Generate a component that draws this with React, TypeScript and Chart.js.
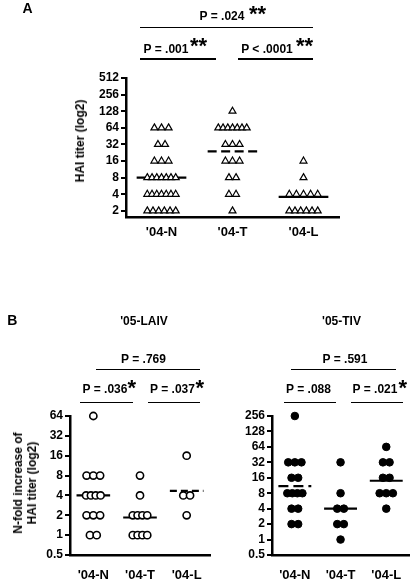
import React, { useEffect, useRef } from "react";
import { Chart, registerables } from "chart.js";

Chart.register(...registerables);

const FONT = "'Liberation Sans', Arial, Helvetica, sans-serif";

const GROUPS = ["'04-N", "'04-T", "'04-L"];

// Panel A: HAI titer (triangles)
const A_N = [64, 64, 64, 32, 32, 16, 16, 16, 8, 8, 8, 8, 8, 8, 8, 4, 4, 4, 4, 4, 4, 4, 2, 2, 2, 2, 2, 2];
const A_T = [128, 64, 64, 64, 64, 64, 64, 64, 32, 32, 32, 16, 16, 16, 8, 8, 4, 4, 2];
const A_L = [16, 8, 4, 4, 4, 4, 4, 2, 2, 2, 2, 2, 2];
const A_CENTER = [8, 24, 3.6];
const A_TICKS = [2, 4, 8, 16, 32, 64, 128, 256, 512];

// Panel B left: '05-LAIV (open circles)
const LAIV_N = [64, 8, 8, 8, 4, 4, 4, 4, 2, 2, 2, 1, 1];
const LAIV_T = [8, 4, 2, 2, 2, 2, 1, 1, 1, 1];
const LAIV_L = [16, 4, 4, 2];
const LAIV_CENTER = [4, 1.85, 4.7];
const LAIV_TICKS = [0.5, 1, 2, 4, 8, 16, 32, 64];

// Panel B right: '05-TIV (filled circles)
const TIV_N = [256, 32, 32, 32, 16, 16, 8, 8, 8, 8, 4, 4, 2, 2];
const TIV_T = [32, 8, 4, 4, 2, 2, 1];
const TIV_L = [64, 32, 32, 16, 16, 8, 8, 8, 4];
const TIV_CENTER = [11, 4, 14];
const TIV_TICKS = [0.5, 1, 2, 4, 8, 16, 32, 64, 128, 256];

// spread tied values horizontally around the group's category position
function spread(values: number[], center: number, maxStep: number, maxSpan: number) {
  const counts = new Map<number, number>();
  values.forEach((v) => counts.set(v, (counts.get(v) || 0) + 1));
  const seen = new Map<number, number>();
  return values.map((v) => {
    const n = counts.get(v) || 1;
    const i = seen.get(v) || 0;
    seen.set(v, i + 1);
    const step = n > 1 ? Math.min(maxStep, maxSpan / (n - 1)) : 0;
    return { x: center + (i - (n - 1) / 2) * step, y: v };
  });
}

type PanelSpec = {
  groups: number[][];
  centers: number[];
  ticks: number[];
  yMin: number;
  yMax: number;
  area: { left: number; right: number; top: number; bottom: number };
  yAxisWidth: number;
  xAxisHeight: number;
  xLabelPad: number;
  pointStyle: string;
  radius: number;
  pointBorder: number;
  fill: string;
  maxStep: number;
  maxSpan: number;
  halfWidth: number;
  dashes: (number[] | null)[];
};

function buildConfig(p: PanelSpec): any {
  const datasets: any[] = [];
  p.groups.forEach((vals, gi) => {
    datasets.push({
      type: "scatter",
      data: spread(vals, gi, p.maxStep, p.maxSpan),
      pointStyle: p.pointStyle,
      pointRadius: p.radius,
      pointBorderWidth: p.pointBorder,
      pointBorderColor: "#000",
      pointBackgroundColor: p.fill,
      showLine: false,
      clip: false,
      order: 0,
    });
  });
  p.centers.forEach((m, gi) => {
    datasets.push({
      type: "scatter",
      data: [
        { x: gi - p.halfWidth, y: m },
        { x: gi + p.halfWidth, y: m },
      ],
      showLine: true,
      borderColor: "#000",
      borderWidth: 2.2,
      borderDash: p.dashes[gi] || [],
      pointRadius: 0,
      clip: false,
      order: 1,
    });
  });
  const W = 415;
  const H = 582;
  return {
    type: "scatter",
    data: { datasets },
    options: {
      animation: false,
      responsive: false,
      devicePixelRatio: 1,
      events: [],
      layout: {
        padding: {
          left: p.area.left - p.yAxisWidth,
          right: W - p.area.right,
          top: p.area.top,
          bottom: H - p.area.bottom - p.xAxisHeight,
        },
      },
      plugins: { legend: { display: false }, tooltip: { enabled: false } },
      scales: {
        x: {
          type: "linear",
          min: -0.5,
          max: 2.5,
          afterBuildTicks: (s: any) => {
            s.ticks = [0, 1, 2].map((v) => ({ value: v }));
          },
          afterFit: (s: any) => {
            s.height = p.xAxisHeight;
          },
          grid: { display: false, drawTicks: false },
          border: { display: true, color: "#000", width: 2.5 },
          ticks: {
            callback: (v: any) => GROUPS[v] ?? "",
            color: "#000",
            font: { family: FONT, size: 13, weight: "bold" },
            padding: p.xLabelPad,
            maxRotation: 0,
            autoSkip: false,
          },
        },
        y: {
          type: "logarithmic",
          min: p.yMin,
          max: p.yMax,
          afterBuildTicks: (s: any) => {
            s.ticks = p.ticks.map((v) => ({ value: v }));
          },
          afterFit: (s: any) => {
            s.width = p.yAxisWidth;
          },
          grid: {
            display: true,
            drawOnChartArea: false,
            drawTicks: true,
            tickLength: 5,
            color: "#000",
            lineWidth: 2,
          },
          border: { display: true, color: "#000", width: 2.5 },
          ticks: {
            callback: (v: any) => String(v),
            color: "#000",
            font: { family: FONT, size: 12, weight: "bold" },
            padding: 2,
            autoSkip: false,
          },
        },
      },
    },
  };
}

const PANEL_A: PanelSpec = {
  groups: [A_N, A_T, A_L],
  centers: A_CENTER,
  ticks: A_TICKS,
  yMin: 1.55,
  yMax: 512,
  area: { left: 126, right: 339, top: 78, bottom: 217 },
  yAxisWidth: 60,
  xAxisHeight: 30,
  xLabelPad: 8,
  pointStyle: "triangle",
  radius: 4,
  pointBorder: 1.2,
  fill: "#fff",
  maxStep: 0.1,
  maxSpan: 0.4,
  halfWidth: 0.35,
  dashes: [null, [9, 4.5], null],
};

const PANEL_LAIV: PanelSpec = {
  groups: [LAIV_N, LAIV_T, LAIV_L],
  centers: LAIV_CENTER,
  ticks: LAIV_TICKS,
  yMin: 0.5,
  yMax: 64,
  area: { left: 70, right: 210, top: 416, bottom: 555 },
  yAxisWidth: 50,
  xAxisHeight: 25,
  xLabelPad: 13,
  pointStyle: "circle",
  radius: 3.6,
  pointBorder: 1.6,
  fill: "#fff",
  maxStep: 0.145,
  maxSpan: 0.31,
  halfWidth: 0.36,
  dashes: [null, null, [7, 4]],
};

const PANEL_TIV: PanelSpec = {
  groups: [TIV_N, TIV_T, TIV_L],
  centers: TIV_CENTER,
  ticks: TIV_TICKS,
  yMin: 0.5,
  yMax: 256,
  area: { left: 272, right: 413, top: 416, bottom: 555 },
  yAxisWidth: 50,
  xAxisHeight: 25,
  xLabelPad: 13,
  pointStyle: "circle",
  radius: 3.8,
  pointBorder: 1,
  fill: "#000",
  maxStep: 0.145,
  maxSpan: 0.33,
  halfWidth: 0.36,
  dashes: [[10, 5], null, null],
};

function PanelChart({ spec }: { spec: PanelSpec }) {
  const ref = useRef<HTMLCanvasElement | null>(null);
  useEffect(() => {
    if (!ref.current) return;
    const chart = new Chart(ref.current, buildConfig(spec));
    return () => chart.destroy();
  }, [spec]);
  return (
    <canvas
      ref={ref}
      width={415}
      height={582}
      style={{ position: "absolute", left: 0, top: 0, width: 415, height: 582 }}
    />
  );
}

function Txt({
  x,
  y,
  size,
  children,
  align = "center",
}: {
  x: number;
  y: number;
  size: number;
  children: any;
  align?: "center" | "left";
}) {
  return (
    <div
      style={{
        position: "absolute",
        left: x,
        top: y - 0.8465 * size,
        fontSize: size,
        lineHeight: 1,
        fontWeight: "bold",
        fontFamily: FONT,
        whiteSpace: "nowrap",
        color: "#000",
        transform: align === "center" ? "translateX(-50%)" : undefined,
      }}
    >
      {children}
    </div>
  );
}

function HLine({ x1, x2, y }: { x1: number; x2: number; y: number }) {
  return (
    <div
      style={{
        position: "absolute",
        left: x1,
        top: y - 0.75,
        width: x2 - x1,
        height: 1.5,
        background: "#000",
      }}
    />
  );
}

function VTitle({ cx, cy, lines }: { cx: number; cy: number; lines: string[] }) {
  return (
    <div
      style={{
        position: "absolute",
        left: cx,
        top: cy,
        transform: "translate(-50%, -50%) rotate(-90deg)",
        fontSize: 12,
        lineHeight: "14px",
        fontWeight: "bold",
        fontFamily: FONT,
        whiteSpace: "nowrap",
        textAlign: "center",
        color: "#000",
      }}
    >
      {lines.map((l, i) => (
        <div key={i}>{l}</div>
      ))}
    </div>
  );
}

export default function App() {
  return (
    <div
      style={{
        position: "fixed",
        left: 0,
        top: 0,
        width: 415,
        height: 582,
        background: "#fff",
        overflow: "hidden",
      }}
    >
      <PanelChart spec={PANEL_A} />
      <PanelChart spec={PANEL_LAIV} />
      <PanelChart spec={PANEL_TIV} />

      {/* Panel A annotations */}
      <Txt x={22.5} y={12.7} size={14} align="left">A</Txt>
      <Txt x={222} y={20} size={12}>P = .024</Txt>
      <Txt x={249} y={21.6} size={22} align="left">**</Txt>
      <HLine x1={140} x2={313} y={27.3} />
      <Txt x={166} y={52.7} size={12}>P = .001</Txt>
      <Txt x={190} y={53.6} size={22} align="left">**</Txt>
      <HLine x1={140} x2={216} y={59} />
      <Txt x={267} y={52.7} size={12}>P &lt; .0001</Txt>
      <Txt x={296} y={53.6} size={22} align="left">**</Txt>
      <HLine x1={238} x2={313} y={59} />
      <VTitle cx={80} cy={140.5} lines={["HAI titer (log2)"]} />

      {/* Panel B annotations */}
      <Txt x={7.3} y={325} size={14} align="left">B</Txt>
      <Txt x={144} y={325} size={12}>'05-LAIV</Txt>
      <Txt x={143.5} y={363.3} size={12}>P = .769</Txt>
      <HLine x1={96} x2={200} y={369.3} />
      <Txt x={105} y={393.3} size={12}>P = .036</Txt>
      <Txt x={127.5} y={395.6} size={22} align="left">*</Txt>
      <HLine x1={80} x2={133} y={402.3} />
      <Txt x={172.5} y={393.3} size={12}>P = .037</Txt>
      <Txt x={195.5} y={395.6} size={22} align="left">*</Txt>
      <HLine x1={148} x2={200} y={402.3} />
      <VTitle cx={25} cy={483} lines={["N-fold increase of", "HAI titer (log2)"]} />

      <Txt x={341.5} y={325} size={12}>'05-TIV</Txt>
      <Txt x={345} y={363.3} size={12}>P = .591</Txt>
      <HLine x1={291} x2={396} y={369.3} />
      <Txt x={308.5} y={393.3} size={12}>P = .088</Txt>
      <HLine x1={284} x2={336} y={402.3} />
      <Txt x={375} y={393.3} size={12}>P = .021</Txt>
      <Txt x={398.5} y={395.6} size={22} align="left">*</Txt>
      <HLine x1={351} x2={403} y={402.3} />
    </div>
  );
}
